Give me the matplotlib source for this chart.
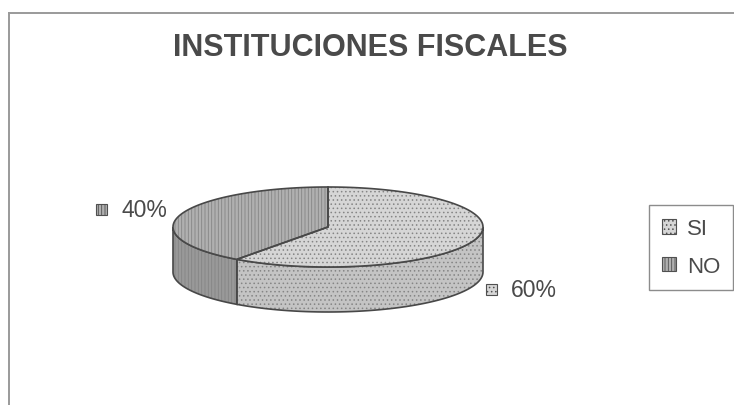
import numpy as np
import matplotlib
matplotlib.use("Agg")
import matplotlib.pyplot as plt
from matplotlib.patches import Polygon, Rectangle

# data
labels = ["SI", "NO"]
values = [60, 40]
top_colors = ["#d6d6d6", "#b0b0b0"]
side_colors = ["#c4c4c4", "#999999"]
hatches = ["....", "|||||"]
title = "INSTITUCIONES FISCALES"

plt.rcParams["font.family"] = ["Liberation Sans", "DejaVu Sans"]
plt.rcParams["hatch.linewidth"] = 0.6
txt_col = "#4a4a4a"

W, H = 734, 406
fig = plt.figure(figsize=(W / 100, H / 100), dpi=100)
ax = fig.add_axes([0, 0, 1, 1])
ax.set_xlim(0, W)
ax.set_ylim(H, 0)
ax.axis("off")

# pie geometry (pixels)
cx, cy = 328, 228
a, b = 155, 40
depth = 45


def pt(t, dy=0):
    r = np.radians(t)
    return cx + a * np.cos(r), cy - b * np.sin(r) + dy


def shape(verts, fc, hatch, z):
    ax.add_patch(Polygon(verts, closed=True, facecolor=fc, edgecolor="#858585",
                         hatch=hatch, linewidth=0, zorder=z))
    ax.add_patch(Polygon(verts, closed=True, facecolor="none", edgecolor="#484848",
                         linewidth=1.2, zorder=z + 0.5))


# slices start at 12 o'clock, clockwise
total = sum(values)
start = 90.0
slices = []
for v in values:
    sweep = 360.0 * v / total
    slices.append((start - sweep, start))
    start -= sweep

# sides (front half only)
for i, (t0, t1) in enumerate(slices):
    for k in (-360, 0, 360):
        lo, hi = max(t0 + k, 180), min(t1 + k, 360)
        if hi > lo:
            ts = np.linspace(lo, hi, 60)
            top = [pt(t) for t in ts]
            bot = [pt(t, depth) for t in ts[::-1]]
            shape(top + bot, side_colors[i], hatches[i], 2)

# top faces
for i, (t0, t1) in enumerate(slices):
    ts = np.linspace(t0, t1, 120)
    verts = [(cx, cy)] + [pt(t) for t in ts]
    shape(verts, top_colors[i], hatches[i], 3)

# percentage labels with key markers
fs_lab = 16.5
m = 11
gap = 14
for i, (t0, t1) in enumerate(slices):
    mid = (t0 + t1) / 2
    r = np.radians(mid)
    x = cx + a * 1.09 * np.cos(r)
    y = cy - b * 1.4 * np.sin(r)
    if np.sin(r) < 0:
        y += depth
    s = f"{values[i] / total:.0%}"
    if np.cos(r) >= 0:
        mx = x - 3
        tx, ha = mx + m + gap, "left"
    else:
        t = ax.text(x, y, s, fontsize=fs_lab, ha="right", va="center")
        fig.canvas.draw()
        bb = t.get_window_extent()
        mx = bb.x0 - m - gap
        t.remove()
        tx, ha = x, "right"
    ax.add_patch(Rectangle((mx, y - m / 2), m, m, facecolor=top_colors[i], edgecolor="#505050",
                           hatch=hatches[i], linewidth=0.8, zorder=4))
    ax.text(tx, y, s, fontsize=fs_lab, color=txt_col, ha=ha, va="center")

# title
ax.text(370, 48, title, fontsize=22, fontweight="bold", color=txt_col, ha="center", va="center")

# chart frame (top and left visible)
ax.plot([9, W], [14, 14], color="#9a9a9a", linewidth=1.4)
ax.plot([9, 9], [14, H], color="#9a9a9a", linewidth=1.4)

# legend
handles = [Rectangle((0, 0), 1, 1, facecolor=top_colors[i], edgecolor="#505050",
                     hatch=hatches[i], linewidth=0.8) for i in range(len(labels))]
leg = ax.legend(handles, labels, loc="upper left", bbox_to_anchor=(649 / W, 1 - 206 / H),
                bbox_transform=fig.transFigure, fontsize=16, frameon=True, fancybox=False,
                handlelength=0.6, handleheight=0.6, handletextpad=0.5, labelspacing=0.75,
                borderpad=0.6, borderaxespad=0)
leg.get_frame().set_edgecolor("#707070")
leg.get_frame().set_linewidth(1.0)
for t in leg.get_texts():
    t.set_color(txt_col)

fig.savefig("out.png", dpi=100)
